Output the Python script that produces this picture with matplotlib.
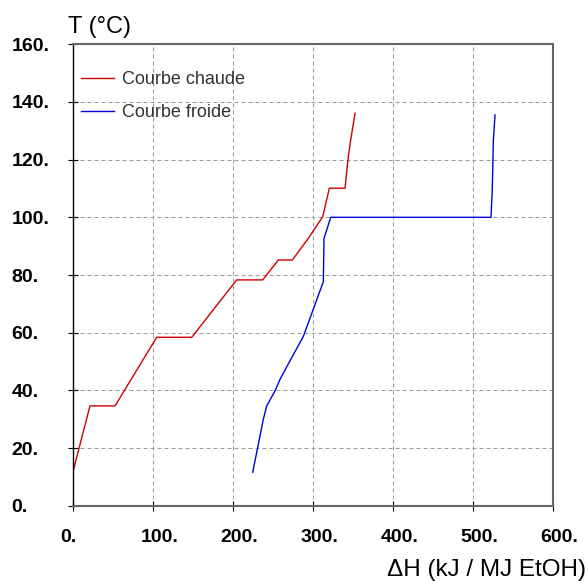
import matplotlib
matplotlib.use("Agg")
import matplotlib.pyplot as plt
from matplotlib.transforms import ScaledTranslation

plt.rcParams['font.family'] = ['Liberation Sans', 'DejaVu Sans']

# Hot composite curve (enthalpy kJ / MJ EtOH, temperature °C)
hot_dh = [0, 21.6, 52.9, 105.0, 148.8, 205.0, 237.5, 257.0, 274.5, 294.5, 312.5,
          320.8, 340.4, 344.5, 347.5, 352.9]
hot_t = [11.4, 34.6, 34.6, 58.4, 58.4, 78.3, 78.3, 85.2, 85.2, 92.7, 100.2,
         110.1, 110.1, 121.0, 126.8, 136.1]

# Cold composite curve
cold_dh = [225.0, 238.3, 242.5, 252.9, 259.1, 272.5, 288.3, 313.3, 314.1, 322.5,
           522.9, 524.5, 525.8, 527.9]
cold_t = [11.6, 30.0, 34.6, 39.8, 43.8, 50.7, 58.7, 77.7, 92.6, 100.0,
          100.0, 110.0, 126.6, 135.5]

x_ticks = [0, 100, 200, 300, 400, 500, 600]
y_ticks = [0, 20, 40, 60, 80, 100, 120, 140, 160]
x_ticklabels = ["0.", "100.", "200.", "300.", "400.", "500.", "600."]
y_ticklabels = ["0.", "20.", "40.", "60.", "80.", "100.", "120.", "140.", "160."]

W, H = 588, 581
fig = plt.figure(figsize=(W / 100, H / 100), dpi=100)
ax = fig.add_axes([72.7 / W, 1 - 505.7 / H, (552.7 - 72.7) / W, (505.7 - 44.3) / H])

ax.plot(hot_dh, hot_t, color="#cc0000", lw=1.0, label="Courbe chaude")
ax.plot(cold_dh, cold_t, color="#0000dd", lw=1.0, label="Courbe froide")

ax.set_xlim(0, 600)
ax.set_ylim(0, 160)
ax.set_xticks(x_ticks)
ax.set_xticklabels(x_ticklabels, ha="left")
ax.set_yticks(y_ticks)
ax.set_yticklabels(y_ticklabels, ha="left")

ax.grid(True, color="#999999", lw=0.72, linestyle=(0, (4, 3)))
ax.set_axisbelow(True)

for side in ("top", "right", "bottom"):
    ax.spines[side].set_color("#666666")
    ax.spines[side].set_linewidth(1.5)
ax.spines["left"].set_color("black")
ax.spines["left"].set_linewidth(1.0)

ax.tick_params(axis="both", direction="inout", length=7, width=0.8, color="black",
               labelsize=14, labelcolor="black")
ax.tick_params(axis="x", pad=13)
ax.tick_params(axis="y", pad=40.4)

# x labels start a little to the left of their tick
shift = ScaledTranslation(-12 / 100, 0, fig.dpi_scale_trans)
for lbl in ax.get_xticklabels():
    lbl.set_fontweight("bold")
    lbl.set_transform(lbl.get_transform() + shift)
for lbl in ax.get_yticklabels():
    lbl.set_fontweight("bold")

leg = ax.legend(loc="upper left", bbox_to_anchor=(80.7 / W, 1 - 71 / H),
                bbox_transform=fig.transFigure, frameon=False, fontsize=13,
                handlelength=1.85, handletextpad=0.45, labelspacing=0.9,
                borderpad=0, borderaxespad=0)
for t in leg.get_texts():
    t.set_color("#333333")

fig.text(68 / W, 1 - 33 / H, "T (°C)", fontsize=17, ha="left", va="baseline")
fig.text(586 / W, 1 - 576 / H, "ΔH (kJ / MJ EtOH)", fontsize=17.5,
         ha="right", va="baseline")

fig.savefig("out.png", dpi=100)
